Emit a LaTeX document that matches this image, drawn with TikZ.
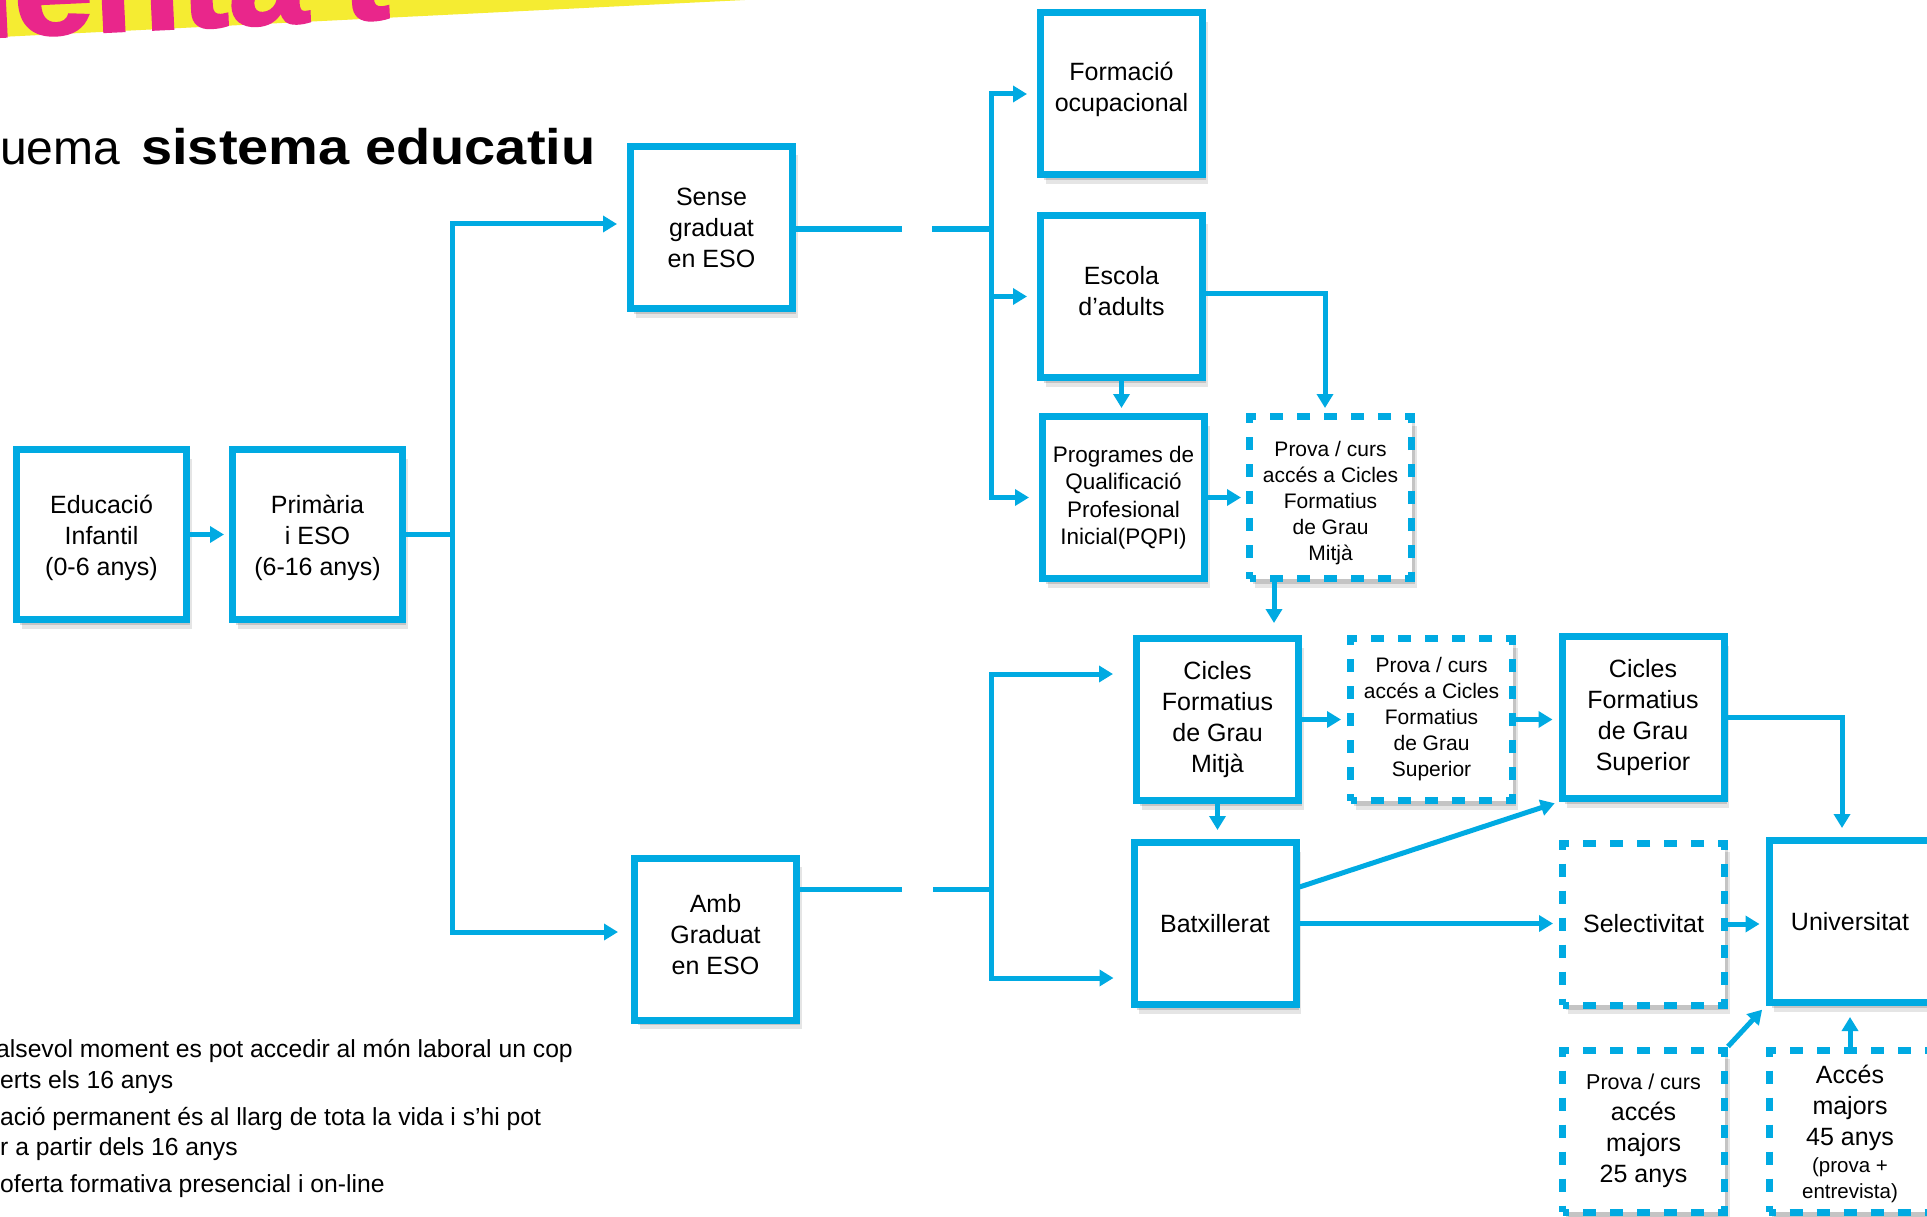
\documentclass[tikz,border=0pt]{standalone}
\usepackage{fontspec}
\setmainfont{Liberation Sans}
\newfontfamily\heavyfont[FakeStretch=1.12]{Liberation Sans}
\newfontfamily\pinkfont[FakeBold=2,FakeStretch=1.1]{Liberation Sans}
\usetikzlibrary{arrows.meta,shadows,calc}
\definecolor{cy}{RGB}{0,170,226}
\definecolor{yel}{RGB}{245,236,50}
\definecolor{mag}{RGB}{233,38,139}
\newcommand{\mainsz}{\fontsize{25}{31}\selectfont}
\newcommand{\smallsz}{\fontsize{21}{26}\selectfont}
\newcommand{\pqsz}{\fontsize{22.5}{27.5}\selectfont}
\newcommand{\notesz}{\fontsize{24.7}{30}\selectfont}
\tikzset{
  box/.style={draw=cy, line width=7pt, fill=white, minimum width=162pt, minimum height=162pt,
    inner sep=0pt, align=center, font=\mainsz,
    drop shadow={shadow xshift=5pt, shadow yshift=-9pt, opacity=0.10, fill=black, draw=none},
    drop shadow={shadow xshift=3pt, shadow yshift=-5pt, opacity=0.14, fill=black, draw=none}},
  bigbox/.style={box, minimum width=170pt, minimum height=170pt},
  dbox/.style={box, dash pattern=on 13pt off 14pt, dash phase=6.5pt, font=\smallsz},
  btext/.style={align=center, inner sep=0pt, font=\mainsz},
  conn/.style={draw=cy, line width=5pt},
  arr/.style={conn, -{Triangle[length=14pt,width=16pt]}, shorten >=5pt},
  plain/.style={anchor=base west, inner sep=0pt},
}
\begin{document}
\begin{tikzpicture}[x=1pt,y=-1pt]
\useasboundingbox (0,0) rectangle (1927,1217);
\clip (0,0) rectangle (1927,1217);
\fill[white] (0,0) rectangle (1927,1217);

% header band and title
\fill[yel] (0,0) -- (745,0) -- (0,37) -- cycle;
\node[plain, rotate=2.7, text=mag, font=\pinkfont\bfseries\fontsize{130}{130}\selectfont] (head) at (-112,42) {menta't};
\node[plain, font=\fontsize{48}{48}\selectfont] (tA) at (0,165) {uema};
\node[plain, font=\heavyfont\bfseries\fontsize{50}{50}\selectfont] (tB) at (141,165) {sistema educatiu};

% notes
\node[plain, font=\notesz] (n1) at (-4,1057) {alsevol moment es pot accedir al món laboral un cop};
\node[plain, font=\notesz] (n2) at (0,1088) {erts els 16 anys};
\node[plain, font=\notesz] (n3) at (0,1125) {ació permanent és al llarg de tota la vida i s’hi pot};
\node[plain, font=\notesz] (n4) at (0,1155) {r a partir dels 16 anys};
\node[plain, font=\notesz] (n5) at (0,1192) {oferta formativa presencial i on-line};

% boxes
\node[bigbox] (edu) at (101.5,534.5) {};
\node[btext] (edut) at (101.5,538) {Educació\\Infantil\\(0-6 anys)};
\node[bigbox] (prim) at (317.5,534.5) {};
\node[btext] (primt) at (317.5,538) {Primària\\i ESO\\(6-16 anys)};
\node[box] (sense) at (711.5,227.5) {Sense\\graduat\\en ESO};
\node[box] (amb) at (715.5,939) {};
\node[btext] (ambt) at (715.5,935) {Amb\\Graduat\\en ESO};
\node[box] (form) at (1121.5,94) {};
\node[btext] (formt) at (1121.5,89) {Formació\\ocupacional};
\node[box] (esc) at (1121.5,296.5) {};
\node[btext] (esct) at (1121.5,291.5) {Escola\\d’adults};
\node[box, font=\pqsz] (pqpi) at (1123.5,497.5) {Programes de\\Qualificació\\Profesional\\Inicial(PQPI)};
\node[dbox] (pgm) at (1330.5,497.5) {};
\node[btext, font=\smallsz] (pgmt) at (1330.5,503) {Prova / curs\\accés a Cicles\\Formatius\\de Grau\\Mitjà};
\node[box] (cfgm) at (1217.5,719.5) {Cicles\\Formatius\\de Grau\\Mitjà};
\node[dbox] (pgs) at (1431.5,719.5) {Prova / curs\\accés a Cicles\\Formatius\\de Grau\\Superior};
\node[box] (cfgs) at (1643,717.5) {Cicles\\Formatius\\de Grau\\Superior};
\node[box] (batx) at (1215,923.5) {Batxillerat};
\node[dbox, font=\mainsz] (sel) at (1643.5,924) {Selectivitat};
\node[box] (univ) at (1850,921.5) {Universitat};
\node[dbox, font=\mainsz] (p25) at (1643.5,1131) {{\fontsize{21.5}{30}\selectfont Prova / curs}\\accés\\majors\\25 anys};
\node[dbox, font=\mainsz] (a45) at (1850,1131) {};
\node[btext] (a45t) at (1850,1134) {Accés\\majors\\45 anys\\[-3.5pt]{\fontsize{20.5}{26}\selectfont (prova +}\\[-5pt]{\fontsize{20.5}{26}\selectfont entrevista)}};

% helper coordinates
\coordinate (tr1) at (452,534.5);
\coordinate (yS) at (0,224);
\coordinate (yAm) at (0,932);
\coordinate (s1) at (902,229);
\coordinate (s2) at (932,229);
\coordinate (tr2) at (991,229);
\coordinate (a1) at (902,889);
\coordinate (a2) at (933,889);
\coordinate (tr3) at (991,889);
\coordinate (yA) at (0,674);
\coordinate (yB) at (0,978);
\coordinate (yC) at (0,887);
\coordinate (yE) at (0,293);
\coordinate (eR) at (1325,293);
\coordinate (cR) at (1842,717.5);
\coordinate (pgb) at ([xshift=-56.5pt]pgm.south);

% connectors
\draw[arr] (edu.east) -- (prim.west);
\draw[conn] (prim.east) -- (tr1);
\draw[arr, shorten >=10pt] (tr1) |- (sense.west |- yS);
\draw[arr, shorten >=13pt] (tr1) |- (amb.west |- yAm);

\draw[conn] (sense.east |- s1) -- (s1);
\draw[conn] (s2) -- (tr2);
\draw[arr, shorten >=10pt] (tr2) |- (form.west);
\draw[arr, shorten >=10pt] (tr2) |- (esc.west);
\draw[arr, shorten >=10pt] (tr2) |- (pqpi.west);

\draw[arr] (esc.south) -- (esc.south |- pqpi.north);
\draw[arr] (esc.east |- yE) -- (eR) -- (eR |- pgm.north);
\draw[arr] (pqpi.east) -- (pgm.west);
\draw[arr, shorten >=12pt] (pgb) -- (pgb |- cfgm.north);

\draw[conn] (amb.east |- a1) -- (a1);
\draw[conn] (a2) -- (tr3);
\draw[arr, shorten >=20pt] (tr3) |- (cfgm.west |- yA);
\draw[arr, shorten >=17pt] (tr3) |- (batx.west |- yB);

\draw[arr, shorten >=9pt] (cfgm.south) -- (cfgm.south |- batx.north);
\draw[arr, shorten >=6pt] (cfgm.east) -- (pgs.west);
\draw[arr, shorten >=6pt] (pgs.east) -- (pgs.east -| cfgs.west);
\draw[arr, shorten >=9pt] (cfgs.east) -- (cR) -- (cR |- univ.north);

\draw[arr, shorten >=4pt] (batx.east |- yC) -- (cfgs.south west);
\draw[arr, shorten >=6pt] (batx.east) -- (batx.east -| sel.west);
\draw[arr, shorten >=6pt] (sel.east) -- (sel.east -| univ.west);
\draw[arr, shorten >=5pt] (p25.north east) -- (univ.south west);
\draw[arr, shorten >=11pt] (a45.north) -- (univ.south);
\end{tikzpicture}
\end{document}
